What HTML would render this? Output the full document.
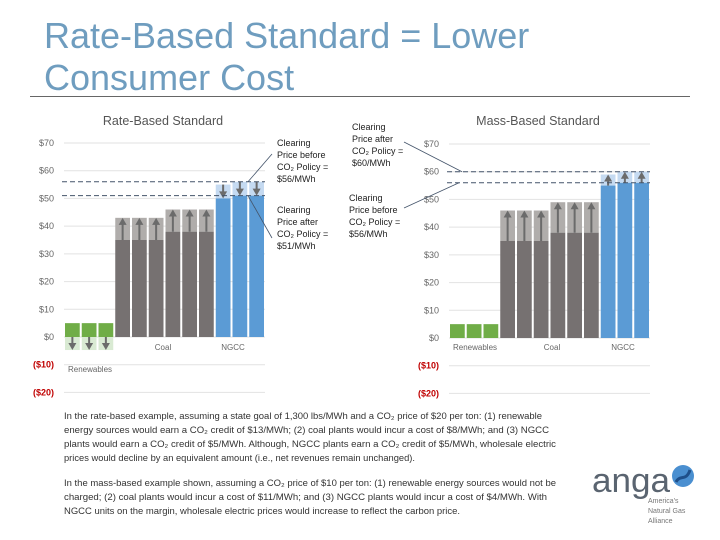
<!DOCTYPE html>
<html><head><meta charset="utf-8"><style>
body{margin:0;background:#fff;}
svg{display:block;font-family:"Liberation Sans",sans-serif;}
</style></head><body>
<svg id="s" width="720" height="540" viewBox="0 0 720 540">
<text x="44" y="48" font-size="36" fill="#6f9dbf">Rate-Based Standard = Lower</text>
<text x="44" y="90" font-size="36" fill="#6f9dbf">Consumer Cost</text>
<line x1="30" y1="96.5" x2="690" y2="96.5" stroke="#666" stroke-width="1"/>
<text x="163" y="125" font-size="12.5" fill="#555" text-anchor="middle">Rate-Based Standard</text>
<text x="538" y="125" font-size="12.5" fill="#555" text-anchor="middle">Mass-Based Standard</text>
<g font-size="9" fill="#222">
<text x="277" y="146">Clearing</text><text x="277" y="158">Price before</text><text x="277" y="170">CO₂ Policy =</text><text x="277" y="182">$56/MWh</text></g>
<g font-size="9" fill="#222">
<text x="277" y="213">Clearing</text><text x="277" y="225">Price after</text><text x="277" y="237">CO₂ Policy =</text><text x="277" y="249">$51/MWh</text></g>
<g font-size="9" fill="#222">
<text x="352" y="130">Clearing</text><text x="352" y="142">Price after</text><text x="352" y="154">CO₂ Policy =</text><text x="352" y="166">$60/MWh</text></g>
<g font-size="9" fill="#222">
<text x="349" y="201">Clearing</text><text x="349" y="213">Price before</text><text x="349" y="225">CO₂ Policy =</text><text x="349" y="237">$56/MWh</text></g>
<g id="left"></g>
<g id="right"></g>
<g font-size="9.3" fill="#333">
<text x="64" y="419" textLength="478" lengthAdjust="spacingAndGlyphs">In the rate-based example, assuming a state goal of 1,300 lbs/MWh and a CO₂ price of $20 per ton: (1) renewable</text>
<text x="64" y="433" textLength="485" lengthAdjust="spacingAndGlyphs">energy sources would earn a CO₂ credit of $13/MWh; (2) coal plants would incur a cost of $8/MWh; and (3) NGCC</text>
<text x="64" y="447" textLength="492" lengthAdjust="spacingAndGlyphs">plants would earn a CO₂ credit of $5/MWh.  Although, NGCC plants earn a CO₂ credit of $5/MWh, wholesale electric</text>
<text x="64" y="461" textLength="351" lengthAdjust="spacingAndGlyphs">prices would decline by an equivalent amount (i.e., net revenues remain unchanged).</text>
<text x="64" y="486" textLength="492" lengthAdjust="spacingAndGlyphs">In the mass-based example shown, assuming a CO₂ price of $10 per ton: (1) renewable energy sources would not be</text>
<text x="64" y="500" textLength="483" lengthAdjust="spacingAndGlyphs">charged; (2) coal plants would incur a cost of $11/MWh; and (3) NGCC plants would incur a cost of $4/MWh. With</text>
<text x="64" y="514" textLength="396" lengthAdjust="spacingAndGlyphs">NGCC units on the margin, wholesale electric prices would increase to reflect the carbon price.</text>
</g>
<g>
<text x="592" y="492" font-size="34" fill="#5a6470" textLength="78" lengthAdjust="spacingAndGlyphs">anga</text>
<circle cx="683" cy="476" r="11" fill="#4a8fd0"/>
<path d="M676 482 C680 474,686 482,690 470" stroke="#1e4f8a" stroke-width="3" fill="none"/>
<text x="648" y="503" font-size="7" fill="#777">America's</text>
<text x="648" y="513" font-size="7" fill="#777">Natural Gas</text>
<text x="648" y="523" font-size="7" fill="#777">Alliance</text>
</g>
</svg>
<script>
const ticks=[70,60,50,40,30,20,10,0,-10,-20];
const tickLabels=["$70","$60","$50","$40","$30","$20","$10","$0","($10)","($20)"];
const categories=["Renewables","Coal","NGCC"];
const rateBefore=[5,5,5,35,35,35,38,38,38,55,56,56];
const rateAfter=[-4.7,-4.7,-4.7,43,43,43,46,46,46,50,51,51];
const rateLines=[56,51];
const massBefore=[5,5,5,35,35,35,38,38,38,55,56,56];
const massAfter=[5,5,5,46,46,46,49,49,49,59,60,60];
const massLines=[60,56];
const NS="http://www.w3.org/2000/svg";
function mk(p,tag,a){const e=document.createElementNS(NS,tag);for(const k in a)e.setAttribute(k,a[k]);p.appendChild(e);return e;}
const cols=["#70ad47","#767171","#5b9bd5"],light=["#d9ead3","#b0adab","#c5daf1"];
function cat(i){return i<3?0:(i<9?1:2);}
function draw(g,x0,x1,y70,y0,before,after,lines,isRate){
  const ys=v=>y0-(v)*(y0-y70)/70;
  const n=before.length,bw=(x1-x0)/n;
  const xs=i=>x0+i*bw;
  ticks.forEach((t,i)=>{
    const l=mk(g,"line",{x1:x0,x2:x1,y1:ys(t),y2:ys(t),stroke:"#e2e2e2"});
    
    
    const tx=mk(g,"text",{x:x0-10,y:ys(t)+3,"font-size":9,fill:t<0?"#c00000":"#666","text-anchor":"end","font-weight":t<0?"bold":"normal"});
    tx.textContent=tickLabels[i];
    
    
  });
  for(let i=0;i<n;i++){
    const c=cat(i),x=xs(i)+1,w=bw-2;
    const b=before[i],a=after[i];
    let solid,lt,lb,from;
    if(a<0){solid=b;lt=0;lb=a;from=0;}
    else{solid=Math.min(a,b);lt=Math.max(a,b);lb=solid;from=b;}
    if(a!==b){
      const ov=mk(g,"rect",{x:x,y:ys(lt),width:w,height:ys(lb)-ys(lt),fill:light[c]});
      
      
    }
    const r=mk(g,"rect",{x:x,y:ys(solid),width:w,height:ys(0)-ys(solid),fill:cols[c]});
    
    
    if(a!==b){
      const cx=x+w/2;
      const to=a;
      const dir=to>from?-1:1;
      const yt=ys(to);
      const ar=mk(g,"line",{x1:cx,x2:cx,y1:ys(from),y2:yt-dir*6,stroke:"#6b6b6b","stroke-width":2});
      
      
      const hd=mk(g,"polygon",{points:`${cx-4},${yt-dir*7} ${cx+4},${yt-dir*7} ${cx},${yt}`,fill:"#6b6b6b"});
      
      
    }
  }
  lines.forEach(v=>{
    const dl=mk(g,"line",{x1:x0-2,x2:x1,y1:ys(v),y2:ys(v),stroke:"#44546a","stroke-dasharray":"5,3"});
    
    
  });
  const labs=isRate?[[x0+4,372,"start"],[163,350,"middle"],[233,350,"middle"]]:[[x0+26,350,"middle"],[x0+103,350,"middle"],[x0+174,350,"middle"]];
  categories.forEach((c,i)=>{
    const t=mk(g,"text",{x:labs[i][0],y:labs[i][1],"font-size":8,fill:"#666","text-anchor":labs[i][2]});
    t.textContent=c;
    
    
  });
  return ys;
}
const L=document.getElementById("left"),R=document.getElementById("right");
const ysL=draw(L,64,265,143,337,rateBefore,rateAfter,rateLines,true);
const ysR=draw(R,449,650,144,338,massBefore,massAfter,massLines,false);
const S=document.getElementById("s");
[[248,ysL(rateLines[0]),272,154],[248,ysL(rateLines[1]),272,238],[462,ysR(massLines[0]),404,142],[459,ysR(massLines[1]),404,208]].forEach(p=>{
  const l=mk(S,"line",{x1:p[0],y1:p[1],x2:p[2],y2:p[3],stroke:"#44546a","stroke-width":0.8});
  
  
});
</script>
</body></html>
